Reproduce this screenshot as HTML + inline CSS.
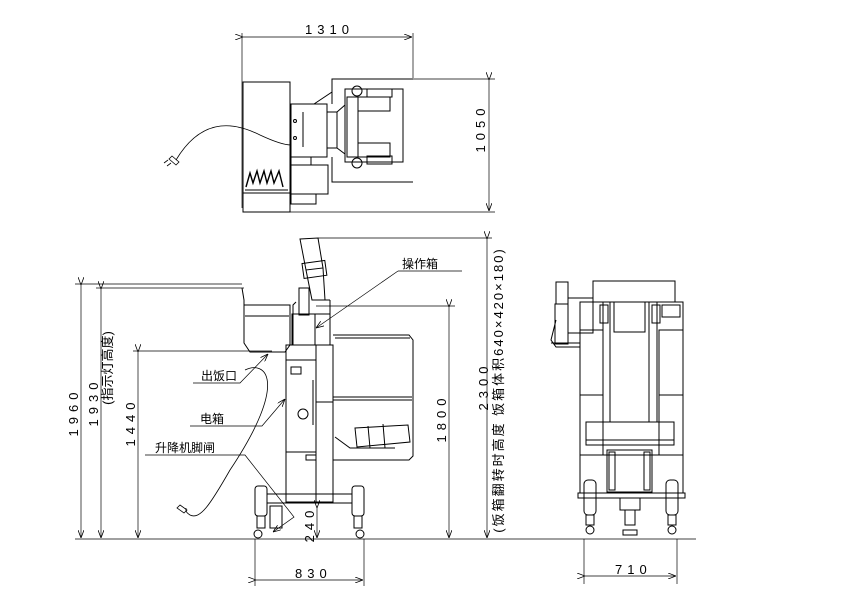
<!DOCTYPE html>
<html><head><meta charset="utf-8"><style>
html,body{margin:0;padding:0;background:#fff;}
svg{display:block;}
text{font-family:"Liberation Sans","Noto Sans CJK SC",sans-serif;fill:#000;}
.n{font-size:13px;letter-spacing:5px;}
.c{font-size:12px;}
</style></head><body>
<svg width="842" height="595" viewBox="0 0 842 595" xmlns="http://www.w3.org/2000/svg">
<defs>
<marker id="a" markerWidth="8" markerHeight="6" refX="8" refY="3" orient="auto" markerUnits="userSpaceOnUse"><path d="M0,0 L8,3 L0,6" fill="none" stroke="#000" stroke-width="0.8"/></marker>
</defs>
<g fill="none" stroke="#000" stroke-width="1">
<!-- TOP VIEW -->
<line x1="242" y1="33" x2="242" y2="208" stroke-width="0.7"/>
<line x1="413" y1="33" x2="413" y2="78" stroke-width="0.7"/>
<line x1="243" y1="37" x2="412" y2="37" stroke-width="0.7" marker-start="url(#a)" marker-end="url(#a)"/>
<line x1="413" y1="79" x2="495" y2="79" stroke-width="0.7"/>
<line x1="290" y1="212" x2="495" y2="212" stroke-width="0.7"/>
<line x1="489" y1="80" x2="489" y2="211" stroke-width="0.7" marker-start="url(#a)" marker-end="url(#a)"/>
<rect x="243" y="82" width="47" height="111"/>
<rect x="243" y="193" width="47" height="19"/>
<line x1="245" y1="190" x2="288" y2="190"/>
<rect x="291" y="104" width="36" height="53"/>
<line x1="303" y1="112" x2="303" y2="147"/>
<circle cx="295" cy="121" r="1.5"/><circle cx="295" cy="138" r="1.5"/>
<rect x="327" y="112" width="10" height="36"/>
<polyline points="413,79 332,79 332,92 314,104"/>
<line x1="332" y1="92" x2="332" y2="104"/>
<polyline points="413,182 332,182 332,157"/>
<rect x="345" y="89" width="58" height="73"/>
<rect x="347" y="97" width="11" height="60"/>
<rect x="358" y="97" width="32" height="14"/><rect x="358" y="143" width="32" height="14"/>
<circle cx="357" cy="91" r="5"/><circle cx="357" cy="163" r="5"/>
<rect x="367" y="89" width="25" height="8"/><rect x="367" y="156" width="25" height="8"/>
<polyline points="337,112 345,105"/><polyline points="337,148 345,154"/>
<rect x="291" y="157" width="20" height="8"/>
<rect x="291" y="165" width="37" height="29"/>
<rect x="291" y="194" width="25" height="10"/>
<path d="M246,187 L250,173 L253,183 L257,171 L260,183 L264,171 L267,183 L271,171 L274,183 L279,171 L283,187" stroke-width="1.4"/>
<path d="M176,160 C200,120 230,120 260,135 C275,142 285,145 291,145" stroke-width="0.8"/>
<path d="M172,156 l7,6 l-3,3 l-7,-6 z M168,160 l-4,3 M171,163 l-4,3" stroke-width="0.8"/>

<!-- SIDE VIEW -->
<line x1="75" y1="539" x2="696" y2="539" stroke-width="0.8"/>
<line x1="75" y1="284" x2="242" y2="284" stroke-width="0.7"/>
<line x1="81" y1="285" x2="81" y2="538" stroke-width="0.7" marker-start="url(#a)" marker-end="url(#a)"/>
<line x1="96" y1="288" x2="244" y2="288" stroke-width="0.7"/>
<line x1="101" y1="289" x2="101" y2="538" stroke-width="0.7" marker-start="url(#a)" marker-end="url(#a)"/>
<line x1="133" y1="351" x2="272" y2="351" stroke-width="0.7"/>
<line x1="138" y1="352" x2="138" y2="538" stroke-width="0.7" marker-start="url(#a)" marker-end="url(#a)"/>
<line x1="316" y1="306" x2="455" y2="306" stroke-width="0.7"/>
<line x1="449" y1="307" x2="449" y2="538" stroke-width="0.7" marker-start="url(#a)" marker-end="url(#a)"/>
<line x1="318" y1="238" x2="492" y2="238" stroke-width="0.7"/>
<line x1="487" y1="239" x2="487" y2="538" stroke-width="0.7" marker-start="url(#a)" marker-end="url(#a)"/>
<line x1="317" y1="508" x2="317" y2="538" stroke-width="0.7" marker-start="url(#a)" marker-end="url(#a)"/>
<line x1="255" y1="539" x2="255" y2="586" stroke-width="0.7"/>
<line x1="364" y1="539" x2="364" y2="586" stroke-width="0.7"/>
<line x1="256" y1="580" x2="363" y2="580" stroke-width="0.7" marker-start="url(#a)" marker-end="url(#a)"/>
<path d="M242,288 L244,300 L244,343 L250,352 L285,352 L290,345 L290,305 L244,305"/>
<line x1="245" y1="316" x2="289" y2="316"/>
<polygon points="300,239 318,238 323,268 306,270"/>
<rect x="303" y="262" width="23" height="15" transform="rotate(-8 314 270)"/>
<polyline points="306,270 312,300 325,300 323,268"/>
<rect x="299" y="288" width="10" height="27"/>
<polyline points="296,302 293,305 293,345"/>
<rect x="292" y="314" width="23" height="31"/>
<line x1="315" y1="314" x2="330" y2="314"/><line x1="330" y1="300" x2="330" y2="345"/>
<line x1="318" y1="300" x2="330" y2="300"/>
<rect x="286" y="345" width="47" height="157"/>
<line x1="286" y1="360" x2="316" y2="360"/>
<line x1="316" y1="345" x2="316" y2="502"/>
<line x1="286" y1="452" x2="316" y2="452"/>
<line x1="316" y1="402" x2="333" y2="402"/>
<rect x="291" y="367" width="10" height="7"/>
<circle cx="303" cy="414" r="5"/>
<line x1="313" y1="380" x2="313" y2="425"/>
<rect x="306" y="455" width="10" height="5"/>
<path d="M333,335 L409,335 L413,340 L413,456 L409,460 L333,460"/>
<line x1="335" y1="338" x2="410" y2="338"/>
<line x1="333" y1="397" x2="412" y2="397"/>
<line x1="333" y1="400" x2="412" y2="400"/>
<polygon points="355,428 408,425 410,442 357,447"/>
<line x1="368" y1="426" x2="370" y2="448"/><line x1="383" y1="424" x2="385" y2="448"/>
<polyline points="335,437 350,448 395,448"/>
<rect x="267" y="494" width="85" height="9"/>
<rect x="255" y="486" width="12" height="30" rx="3"/>
<rect x="352" y="486" width="12" height="30" rx="3"/>
<rect x="257" y="516" width="8" height="12"/><rect x="354" y="516" width="8" height="12"/>
<circle cx="258" cy="534" r="4"/><circle cx="360" cy="534" r="4"/>
<rect x="270" y="506" width="12" height="22"/>
<path d="M245,370 C265,360 290,380 230,470 C210,505 200,520 190,515 C185,512 186,510 186,508" stroke-width="0.8"/>
<path d="M180,505 l7,5 l-3,3 l-7,-5 z" stroke-width="0.8"/>
<line x1="398" y1="271" x2="462" y2="271" stroke-width="0.7"/>
<line x1="398" y1="271" x2="316" y2="328" stroke-width="0.7" marker-end="url(#a)"/>
<polyline points="193,383 240,383 268,354" stroke-width="0.7" marker-end="url(#a)"/>
<polyline points="190,426 262,426 285,399" stroke-width="0.7" marker-end="url(#a)"/>
<polyline points="145,455 245,455 294,517 273,532" stroke-width="0.7" marker-end="url(#a)"/>

<!-- FRONT VIEW -->
<rect x="593" y="281" width="82" height="21"/>
<rect x="580" y="302" width="103" height="153"/>
<rect x="580" y="330" width="23" height="125"/>
<rect x="659" y="330" width="24" height="125"/>
<line x1="580" y1="395" x2="603" y2="395"/><line x1="659" y1="395" x2="683" y2="395"/>
<rect x="603" y="302" width="7" height="120"/>
<rect x="649" y="302" width="8" height="120"/>
<rect x="614" y="302" width="31" height="30"/>
<rect x="600" y="305" width="8" height="18"/><rect x="652" y="305" width="8" height="18"/>
<rect x="662" y="305" width="18" height="12"/>
<rect x="586" y="422" width="88" height="23"/>
<line x1="586" y1="440" x2="674" y2="440"/>
<rect x="580" y="455" width="103" height="38"/>
<rect x="607" y="450" width="45" height="42"/>
<rect x="609" y="452" width="6" height="38"/><rect x="644" y="452" width="6" height="38"/>
<rect x="578" y="493" width="107" height="5"/>
<rect x="584" y="480" width="12" height="35" rx="4"/><rect x="666" y="480" width="12" height="35" rx="4"/>
<rect x="586" y="515" width="8" height="10"/><rect x="668" y="515" width="8" height="10"/>
<circle cx="590" cy="530" r="4"/><circle cx="672" cy="530" r="4"/>
<rect x="620" y="498" width="20" height="12"/><rect x="625" y="510" width="10" height="15"/>
<rect x="623" y="530" width="14" height="5"/>
<rect x="556" y="282" width="12" height="22"/>
<rect x="568" y="298" width="25" height="35"/>
<rect x="555" y="304" width="13" height="40"/>
<polyline points="556,320 551,340 556,347 580,347"/>
<line x1="551" y1="343" x2="580" y2="343"/>
<line x1="584" y1="539" x2="584" y2="584" stroke-width="0.7"/>
<line x1="677" y1="539" x2="677" y2="584" stroke-width="0.7"/>
<line x1="585" y1="576" x2="676" y2="576" stroke-width="0.7" marker-start="url(#a)" marker-end="url(#a)"/>
</g>
<text class="n" x="305" y="34">1310</text>
<text class="n" transform="translate(485,128) rotate(-90)" text-anchor="middle">1050</text>
<text class="n" transform="translate(78,412) rotate(-90)" text-anchor="middle">1960</text>
<text class="n" transform="translate(98,402) rotate(-90)" text-anchor="middle">1930</text>
<text class="c" style="font-size:13px" transform="translate(112,368) rotate(-90)" text-anchor="middle">(指示灯高度)</text>
<text class="n" transform="translate(135,422) rotate(-90)" text-anchor="middle">1440</text>
<text class="n" transform="translate(446,418) rotate(-90)" text-anchor="middle">1800</text>
<text class="n" transform="translate(488,386) rotate(-90)" text-anchor="middle">2300</text>
<text class="c" style="font-size:13px;letter-spacing:2px" transform="translate(503,390) rotate(-90)" text-anchor="middle">(饭箱翻转时高度  饭箱体积640×420×180)</text>
<text class="n" transform="translate(314,524) rotate(-90)" text-anchor="middle">240</text>
<text class="n" x="295" y="578">830</text>
<text class="n" x="615" y="574">710</text>
<text class="c" x="402" y="268">操作箱</text>
<text class="c" x="201" y="380">出饭口</text>
<text class="c" x="200" y="423">电箱</text>
<text class="c" x="155" y="452">升降机脚闸</text>
</svg>
</body></html>
